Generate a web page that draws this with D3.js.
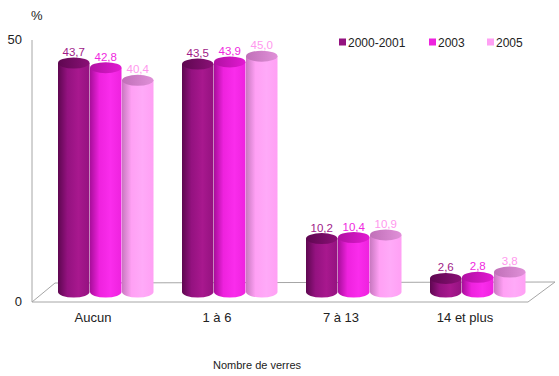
<!DOCTYPE html>
<html>
<head>
<meta charset="utf-8">
<script src="https://cdn.jsdelivr.net/npm/d3@7"></script>
<style>
  body { margin: 0; background: #fff; }
  text { font-family: Arial, "Liberation Sans", sans-serif; }
</style>
</head>
<body>
<div id="chart"></div>
<script>
// Data
const categories = ["Aucun", "1 à 6", "7 à 13", "14 et plus"];
const seriesNames = ["2000-2001", "2003", "2005"];
const values2000 = [43.7, 43.5, 10.2, 2.6];
const values2003 = [42.8, 43.9, 10.4, 2.8];
const values2005 = [40.4, 45.0, 10.9, 3.8];
const yTicks = [0, 50];

const seriesValues = [values2000, values2003, values2005];

// colours per series
const palette = [
  { light: "#a8188e", base: "#941280", edge: "#5e0750", top1: "#5e0750", top2: "#8a1076", label: "#a01a88" },
  { light: "#fa2cec", base: "#ee22de", edge: "#a80e9a", top1: "#b010a2", top2: "#e21ad2", label: "#f028e0" },
  { light: "#ffaaf8", base: "#ffa0f4", edge: "#c878c0", top1: "#c070b8", top2: "#e090d8", label: "#ff98ee" }
];

const width = 559, height = 376;
const svg = d3.select("#chart").append("svg")
  .attr("width", width)
  .attr("height", height);

// front plane geometry
const x0 = d3.scaleBand().domain(categories).range([31, 527]).padding(0);
const x1 = d3.scaleBand().domain(seriesNames).range([0, 96]).padding(0);
const y = d3.scaleLinear().domain([0, 50]).range([302, 40]);
const depthX = 24, depthY = -20;   // floor depth
const barDx = 13, barDy = -10;     // bars sit mid depth
const ry = 5.5;

// cylinder gradients
const defs = svg.append("defs");
palette.forEach((p, i) => {
  const g = defs.append("linearGradient").attr("id", "cyl" + i)
    .attr("x1", "0%").attr("x2", "100%").attr("y1", "0%").attr("y2", "0%");
  g.append("stop").attr("offset", "0%").attr("stop-color", p.edge);
  g.append("stop").attr("offset", "30%").attr("stop-color", p.base);
  g.append("stop").attr("offset", "65%").attr("stop-color", p.light);
  g.append("stop").attr("offset", "100%").attr("stop-color", p.base);
  const t = defs.append("linearGradient").attr("id", "top" + i)
    .attr("x1", "0%").attr("x2", "100%").attr("y1", "0%").attr("y2", "0%");
  t.append("stop").attr("offset", "0%").attr("stop-color", p.top1);
  t.append("stop").attr("offset", "100%").attr("stop-color", p.top2);
});

// floor
const xl = 32, xr = 528, y0 = y(0);
svg.append("path")
  .attr("d", `M${xl},${y0} L${xl + depthX - 1},${y0 + depthY + 1} L${xr + depthX + 3},${y0 + depthY} L${xr},${y0} Z`)
  .attr("fill", "none")
  .attr("stroke", "#a6a6a6")
  .attr("stroke-width", 1);

// value axis line
svg.append("line")
  .attr("x1", xl).attr("x2", xl)
  .attr("y1", y(50)).attr("y2", y0)
  .attr("stroke", "#a6a6a6");

svg.selectAll(".ytick").data(yTicks).enter().append("text")
  .attr("class", "ytick")
  .attr("x", 22).attr("y", d => y(d) + 4)
  .attr("text-anchor", "end")
  .attr("font-size", "13px")
  .attr("fill", "#222")
  .text(d => d);

svg.append("text")
  .attr("x", 31).attr("y", 20)
  .attr("font-size", "13px")
  .attr("fill", "#222")
  .text("%");

// bars
const w = x1.bandwidth() - 0.5;
const rx = w / 2;
categories.forEach((cat, ci) => {
  seriesNames.forEach((s, si) => {
    const v = seriesValues[si][ci];
    const cx = x0(cat) + 14 + x1(s) + barDx + rx;
    const base = y(0) + barDy;
    const top = y(v) + barDy;
    const g = svg.append("g");
    g.append("path")
      .attr("d", `M${cx - rx},${top} L${cx - rx},${base} A${rx},${ry} 0 0 0 ${cx + rx},${base} L${cx + rx},${top} Z`)
      .attr("fill", `url(#cyl${si})`);
    g.append("ellipse")
      .attr("cx", cx).attr("cy", top)
      .attr("rx", rx).attr("ry", ry)
      .attr("fill", `url(#top${si})`);
    svg.append("text")
      .attr("x", cx).attr("y", top - 7)
      .attr("text-anchor", "middle")
      .attr("font-size", "11.5px")
      .attr("fill", palette[si].label)
      .text(d3.format(".1f")(v).replace(".", ","));
  });
});

// category labels
svg.selectAll(".cat").data(categories).enter().append("text")
  .attr("class", "cat")
  .attr("x", d => x0(d) + x0.bandwidth() / 2)
  .attr("y", 322)
  .attr("text-anchor", "middle")
  .attr("font-size", "13px")
  .attr("fill", "#222")
  .text(d => d);

svg.append("text")
  .attr("x", 213).attr("y", 369)
  .attr("font-size", "11px")
  .attr("fill", "#222")
  .text("Nombre de verres");

// legend
const legendX = [339, 429, 487];
const legend = svg.selectAll(".leg").data(seriesNames).enter().append("g")
  .attr("class", "leg")
  .attr("transform", (d, i) => `translate(${legendX[i]},42)`);
legend.append("rect")
  .attr("x", 0).attr("y", -3.5)
  .attr("width", 7).attr("height", 7)
  .attr("fill", (d, i) => palette[i].base);
legend.append("text")
  .attr("x", 9).attr("y", 4.5)
  .attr("font-size", "12px")
  .attr("fill", "#222")
  .text(d => d);
</script>
</body>
</html>
